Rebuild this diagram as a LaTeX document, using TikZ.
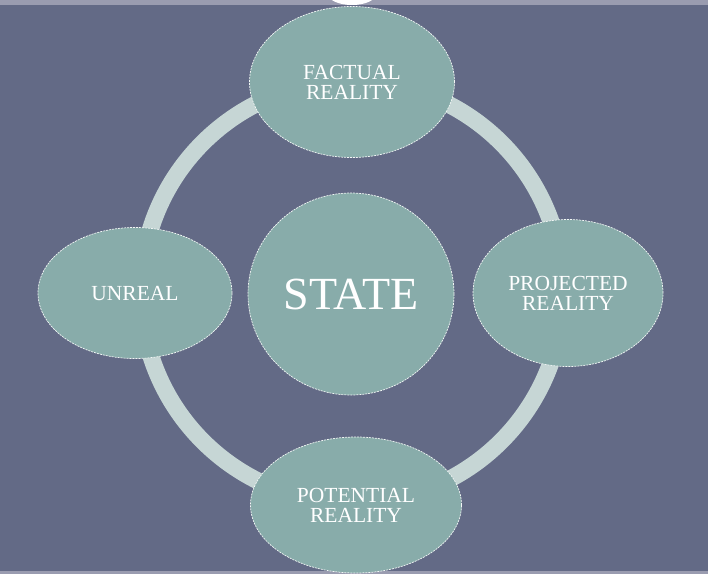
\documentclass[tikz,border=0pt]{standalone}
\usepackage{fontspec}
\setmainfont{Liberation Serif}
\usetikzlibrary{shapes.geometric,positioning}
\definecolor{slate}{HTML}{636A86}
\definecolor{stripgray}{HTML}{9A9CB0}
\definecolor{sage}{HTML}{88ACAA}
\definecolor{ringgray}{HTML}{C6D6D5}
\tikzset{
  bubble/.style={ellipse, fill=sage, draw=white!90!sage, dash pattern=on 2pt off 1pt,
    line width=0.7pt, text=white, align=center, inner sep=0pt,
    font=\fontsize{21.5}{20}\selectfont},
}

\begin{document}
\begin{tikzpicture}[x=1pt,y=-1pt]
    % 背景
    \useasboundingbox (0,0) rectangle (708,574);
    \fill[slate] (0,0) rectangle (708,574);
    \fill[stripgray] (0,0) rectangle (708,5);
    \fill[stripgray] (0,571) rectangle (708,574);
    \begin{scope}
      \clip (0,0) rectangle (708,6);
      \fill[white] (352,-6) ellipse (24 and 11);
    \end{scope}

    % 中心
    \node[bubble, minimum width=206pt, minimum height=202pt,
      font=\fontsize{46}{46}\selectfont] (state) at (351,294) {STATE};

    % 圆环
    \draw[ringgray, line width=17pt] (352,292) circle (211);

    % 四个状态
    \node[bubble, minimum width=205pt, minimum height=151pt] (factual) at (352,82) {FACTUAL\\REALITY};
    \node[bubble, minimum width=190pt, minimum height=147pt] (projected) at (568,293) {PROJECTED\\REALITY};
    \node[bubble, minimum width=211pt, minimum height=136pt] (potential) at (356,505) {POTENTIAL\\REALITY};
    \node[bubble, minimum width=194pt, minimum height=131pt] (unreal) at (135,293) {UNREAL};
\end{tikzpicture}
\end{document}
